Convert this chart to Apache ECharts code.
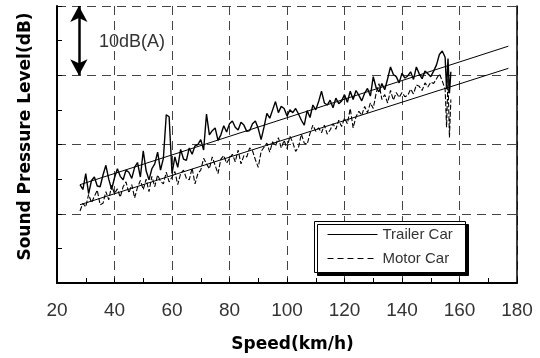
<!DOCTYPE html>
<html lang="en">
<head>
<meta charset="UTF-8">
<title>Sound Pressure Level vs Speed</title>
<script src="https://cdn.jsdelivr.net/npm/echarts@6/dist/echarts.min.js"></script>
<style>
  html, body { margin: 0; padding: 0; background: #fff; }
  #main { width: 540px; height: 358px; }
</style>
</head>
<body>
<div id="main"></div>
<script>
// speed samples (km/h)
var speeds = [
  28, 29, 30, 31, 32, 33, 34, 35, 36, 37,
  38, 39, 40, 41, 42, 43, 44, 45, 46, 47,
  48, 49, 50, 51, 52, 53, 54, 55, 56, 57,
  58, 59, 60, 61, 62, 63, 64, 65, 66, 67,
  68, 69, 70, 71, 72, 73, 74, 75, 76, 77,
  78, 79, 80, 81, 82, 83, 84, 85, 86, 87,
  88, 89, 90, 91, 92, 93, 94, 95, 96, 97,
  98, 99, 100, 101, 102, 103, 104, 105, 106, 107,
  108, 109, 110, 111, 112, 113, 114, 115, 116, 117,
  118, 119, 120, 121, 122, 123, 124, 125, 126, 127,
  128, 129, 130, 131, 132, 133, 134, 135, 136, 137,
  138, 139, 140, 141, 142, 143, 144, 145, 146, 147,
  148, 149, 150, 151, 152, 153, 154, 155,
  155.5, 156, 156.5, 157
];

// measured SPL, dB
var trailerSpl = [
  54.2, 53.5, 55.8, 52.9, 54.8, 55.3, 54.0, 53.9, 55.6, 57.0,
  55.0, 53.5, 55.2, 56.5, 55.4, 54.9, 56.3, 56.0, 55.1, 56.7,
  57.4, 55.3, 59.1, 56.2, 54.9, 56.5, 57.2, 58.9, 56.3, 58.0,
  64.3, 64.0, 55.8, 58.2, 56.7, 59.3, 57.9, 57.7, 59.5, 58.6,
  59.8, 60.0, 60.7, 59.2, 64.4, 61.4, 62.0, 62.4, 60.6, 61.4,
  62.7, 61.8, 63.0, 63.4, 62.5, 62.1, 63.2, 62.8, 61.9, 62.0,
  63.0, 63.4, 62.3, 60.7, 62.5, 64.5, 63.8, 65.0, 66.2, 64.6,
  65.5, 65.2, 64.1, 65.0, 64.6, 65.2, 64.4, 63.5, 62.8, 64.9,
  63.9, 65.7, 65.0, 66.2, 67.7, 66.0, 65.7, 66.4, 65.3, 66.7,
  65.9, 66.3, 67.2, 66.1, 67.7, 66.5, 67.8, 67.1, 66.3, 67.4,
  68.1, 67.0, 69.8, 68.2, 67.6, 68.8, 67.9, 69.5, 71.2, 70.1,
  69.8, 68.9, 70.3, 69.6, 69.9, 70.5, 69.4, 71.2, 70.2, 69.5,
  70.6, 70.2, 69.8, 70.6, 71.5, 73.0, 73.5, 72.6,
  68.0, 72.4, 67.4, 70.5
];

var motorSpl = [
  50.4, 51.5, 51.0, 52.8, 51.6, 52.5, 53.4, 51.3, 51.5, 53.2,
  52.0, 54.1, 52.9, 53.6, 52.4, 53.9, 54.6, 53.0, 54.2, 52.3,
  53.8, 54.8, 53.5, 55.0, 53.2, 55.4, 53.9, 55.6, 54.7, 54.3,
  56.0, 54.6, 55.3, 56.1, 54.2, 55.8, 56.3, 55.1, 54.9, 56.6,
  54.3, 55.8, 56.3, 58.0, 57.2, 56.5, 58.2, 57.0, 55.8, 57.9,
  58.4, 57.3, 58.0, 58.6, 57.5, 59.2, 57.2, 58.4, 58.2, 59.5,
  59.1, 57.8, 56.7, 59.0, 59.6, 60.2, 58.9, 60.4, 59.8, 61.0,
  59.5, 60.6, 59.4, 61.2, 60.3, 59.0, 59.6, 61.5, 60.2, 60.0,
  61.6, 62.8, 61.9, 62.4, 61.7, 62.8, 61.5, 62.1, 63.0, 62.2,
  63.5, 62.6, 63.8, 63.0, 65.2, 62.4, 64.0, 64.8, 64.2, 65.5,
  64.6, 66.0, 65.2, 67.4, 68.8, 66.5, 67.2, 66.0, 67.8, 66.4,
  67.5, 66.8, 67.5, 66.9, 67.1, 68.0, 67.3, 68.6, 68.4, 67.8,
  68.9, 68.3, 69.0, 68.8, 69.5, 70.2, 69.2, 68.0,
  62.5, 69.5, 61.0, 66.5
];

// regression lines (end points)
var fitSpeeds = [28, 177];
var trailerFit = [54.2, 74.2];
var motorFit = [51.3, 71.0];

// 10 dB scale arrow
var arrowSpeed = 27.6;
var arrowSpl = [80, 70];

function pairs(xs, ys) {
  return xs.map(function (x, i) { return [x, ys[i]]; });
}

var chart = echarts.init(document.getElementById('main'));

var gridDash = { color: '#444', width: 1, type: [9, 6] };
var numFont = '"Liberation Sans", Arial, sans-serif';
var nameFont = '"DejaVu Sans", sans-serif';

var option = {
  animation: false,
  grid: { left: 57, right: 23, top: 6, bottom: 70 },
  legend: {
    orient: 'vertical',
    left: 314,
    top: 221,
    z: 10,
    padding: [6, 12, 6, 13],
    itemWidth: 50,
    itemHeight: 10,
    itemGap: 9,
    textStyle: { fontFamily: numFont, fontSize: 15, color: '#333' },
    data: [
      { name: 'Trailer Car', itemStyle: { opacity: 0 }, lineStyle: { color: '#000', width: 1, type: 'solid' } },
      { name: 'Motor Car', itemStyle: { opacity: 0 }, lineStyle: { color: '#000', width: 1, type: [6, 4] } }
    ]
  },
  xAxis: {
    type: 'value',
    min: 20,
    max: 180,
    interval: 20,
    name: 'Speed(km/h)',
    nameLocation: 'middle',
    nameGap: 53,
    nameTextStyle: { fontFamily: nameFont, fontWeight: 'bold', fontSize: 17, color: '#000', padding: [0, 0, 0, 11] },
    axisLine: { show: true, onZero: false, lineStyle: { color: '#000', width: 2 } },
    axisTick: { show: true, inside: true, length: 5, lineStyle: { color: '#000' } },
    minorTick: { show: true, splitNumber: 2, length: 5, lineStyle: { color: '#000' } },
    axisLabel: { margin: 18, fontFamily: numFont, fontSize: 19, color: '#333' },
    splitLine: { show: true, lineStyle: gridDash }
  },
  yAxis: [
    {
      type: 'value',
      min: 40,
      max: 80,
      interval: 10,
      name: 'Sound Pressure Level(dB)',
      nameLocation: 'middle',
      nameGap: 23,
      nameTextStyle: { fontFamily: nameFont, fontWeight: 'bold', fontSize: 17, color: '#000', padding: [0, 0, 0, 16] },
      axisLine: { show: true, onZero: false, lineStyle: { color: '#000', width: 2 } },
      axisTick: { show: true, inside: true, length: 5, lineStyle: { color: '#000' } },
      minorTick: { show: true, splitNumber: 2, length: 5, lineStyle: { color: '#000' } },
      axisLabel: { show: false },
      splitLine: { show: true, lineStyle: gridDash }
    },
    {
      type: 'value',
      position: 'right',
      min: 40,
      max: 80,
      interval: 10,
      axisLine: { show: true, onZero: false, lineStyle: { color: '#000', width: 1.5 } },
      axisTick: { show: false },
      axisLabel: { show: false },
      splitLine: { show: false }
    }
  ],
  graphic: [
    {
      // legend frame with drop shadow
      type: 'rect',
      z: 8,
      shape: { x: 314.5, y: 221.5, width: 151, height: 51 },
      style: {
        fill: '#fff',
        stroke: '#000',
        lineWidth: 1,
        shadowBlur: 0,
        shadowOffsetX: 3,
        shadowOffsetY: 3,
        shadowColor: '#000'
      }
    },
    {
      type: 'text',
      left: 99,
      top: 33,
      style: { text: '10dB(A)', font: '18px ' + numFont, fill: '#333' }
    }
  ],
  series: [
    {
      name: 'Trailer Car',
      type: 'line',
      data: pairs(speeds, trailerSpl),
      showSymbol: false,
      symbol: 'none',
      lineStyle: { color: '#000', width: 1.4 },
      z: 4
    },
    {
      name: 'Motor Car',
      type: 'line',
      data: pairs(speeds, motorSpl),
      showSymbol: false,
      symbol: 'none',
      lineStyle: { color: '#000', width: 1.1, type: [5, 2] },
      z: 3
    },
    {
      name: 'Trailer fit',
      type: 'line',
      data: pairs(fitSpeeds, trailerFit),
      showSymbol: false,
      symbol: 'none',
      lineStyle: { color: '#000', width: 1 },
      z: 5,
      markLine: {
        silent: true,
        symbol: ['arrow', 'arrow'],
        symbolSize: [13, 16],
        label: { show: false },
        lineStyle: { color: '#000', width: 2.5, type: 'solid' },
        data: [[{ coord: [arrowSpeed, arrowSpl[0]] }, { coord: [arrowSpeed, arrowSpl[1]] }]]
      }
    },
    {
      name: 'Motor fit',
      type: 'line',
      data: pairs(fitSpeeds, motorFit),
      showSymbol: false,
      symbol: 'none',
      lineStyle: { color: '#000', width: 1 },
      z: 5
    }
  ]
};

chart.setOption(option);
</script>
</body>
</html>
